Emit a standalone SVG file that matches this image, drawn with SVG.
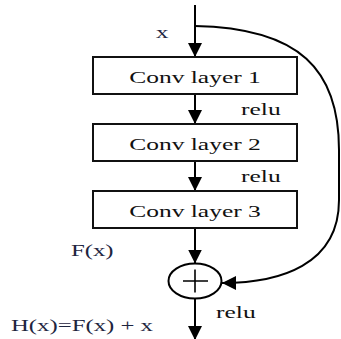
<svg xmlns="http://www.w3.org/2000/svg" width="341" height="339" viewBox="0 0 341 339">
  <defs>
    <style>
      .box { fill: #ffffff; stroke: #111111; stroke-width: 2; }
      .conn { fill: none; stroke: #000000; stroke-width: 2; }
      .t { font-family: "Liberation Serif", "Times New Roman", serif; font-size: 17px; fill: #111111; }
      .lbl { font-family: "Liberation Serif", "Times New Roman", serif; font-size: 16.5px; fill: #1e2540; }
    </style>
    <marker id="arr" markerUnits="userSpaceOnUse" markerWidth="14" markerHeight="14" refX="14" refY="7" orient="auto">
      <path d="M0,0 L14,7 L0,14 z" fill="#000000"/>
    </marker>
  </defs>
  <rect width="341" height="339" fill="#ffffff"/>

  <g id="connectors">
    <path class="conn" d="M195,5 V57" marker-end="url(#arr)"/>
    <path class="conn" d="M195,94 V124" marker-end="url(#arr)"/>
    <path class="conn" d="M195,161 V191" marker-end="url(#arr)"/>
    <path class="conn" d="M195,228 V263.5" marker-end="url(#arr)"/>
    <path class="conn" d="M195,298.5 V340" marker-end="url(#arr)"/>
    <path class="conn" d="M195,26 C300,28 339,70 339,150 L339,200 C339,265 280,283 222,283" marker-end="url(#arr)"/>
  </g>

  <g id="conv1">
    <rect class="box" x="93" y="57" width="204" height="37"/>
    <text class="t" text-anchor="middle" transform="translate(195,83) scale(1.5,1)">Conv layer 1</text>
  </g>
  <g id="conv2">
    <rect class="box" x="93" y="124" width="204" height="37"/>
    <text class="t" text-anchor="middle" transform="translate(195,150) scale(1.5,1)">Conv layer 2</text>
  </g>
  <g id="conv3">
    <rect class="box" x="93" y="191" width="204" height="37"/>
    <text class="t" text-anchor="middle" transform="translate(195,217) scale(1.5,1)">Conv layer 3</text>
  </g>

  <g id="sum">
    <ellipse cx="195" cy="281" rx="26.5" ry="17.5" fill="#ffffff" stroke="#000000" stroke-width="2"/>
    <path d="M183,281 H208 M195,269.5 V292.5" stroke="#000000" stroke-width="1.6" fill="none"/>
  </g>

  <g id="labels">
    <text class="lbl" transform="translate(156,38) scale(1.5,1)">x</text>
    <text class="t" transform="translate(241,115) scale(1.5,1)">relu</text>
    <text class="t" transform="translate(241,182) scale(1.5,1)">relu</text>
    <text class="lbl" transform="translate(71,256) scale(1.5,1)">F(x)</text>
    <text class="t" transform="translate(216,318) scale(1.5,1)">relu</text>
    <text class="lbl" transform="translate(11,331) scale(1.5,1)">H(x)=F(x) + x</text>
  </g>
</svg>
